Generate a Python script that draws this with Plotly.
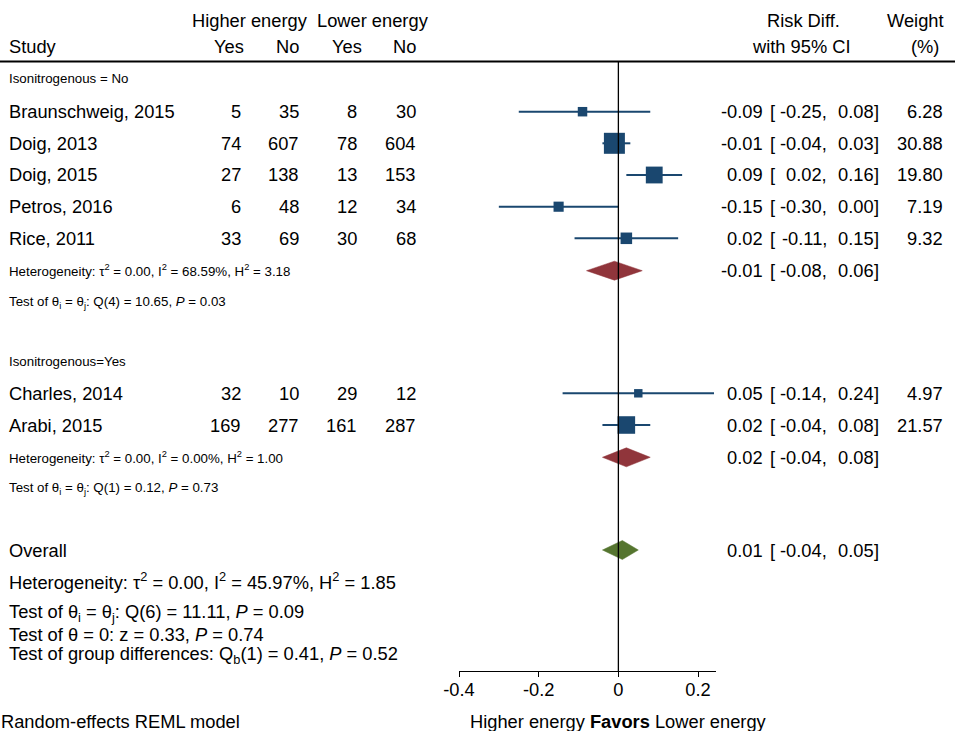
import plotly.graph_objects as go
import math

# ---------------- data ----------------
studies = ["Braunschweig, 2015", "Doig, 2013", "Doig, 2015", "Petros, 2016",
           "Rice, 2011", "Charles, 2014", "Arabi, 2015"]
hi_yes = [5, 74, 27, 6, 33, 32, 169]
hi_no = [35, 607, 138, 48, 69, 10, 277]
lo_yes = [8, 78, 13, 12, 30, 29, 161]
lo_no = [30, 604, 153, 34, 68, 12, 287]
rd = [-0.09, -0.01, 0.09, -0.15, 0.02, 0.05, 0.02]
ci_lo = [-0.25, -0.04, 0.02, -0.30, -0.11, -0.14, -0.04]
ci_hi = [0.08, 0.03, 0.16, 0.00, 0.15, 0.24, 0.08]
weight = [6.28, 30.88, 19.80, 7.19, 9.32, 4.97, 21.57]

sub_labels = ["Isonitrogenous = No", "Isonitrogenous=Yes"]
sub_rd = [-0.01, 0.02]
sub_lo = [-0.08, -0.04]
sub_hi = [0.06, 0.08]
sub_het = ["Heterogeneity: τ<sup>2</sup> = 0.00, I<sup>2</sup> = 68.59%, H<sup>2</sup> = 3.18",
           "Heterogeneity: τ<sup>2</sup> = 0.00, I<sup>2</sup> = 0.00%, H<sup>2</sup> = 1.00"]
sub_test = ["Test of θ<sub>i</sub> = θ<sub>j</sub>: Q(4) = 10.65, <i>P</i> = 0.03",
            "Test of θ<sub>i</sub> = θ<sub>j</sub>: Q(1) = 0.12, <i>P</i> = 0.73"]

overall_rd = 0.01
overall_lo = -0.04
overall_hi = 0.05
overall_het = "Heterogeneity: τ<sup>2</sup> = 0.00, I<sup>2</sup> = 45.97%, H<sup>2</sup> = 1.85"
overall_tests = ["Test of θ<sub>i</sub> = θ<sub>j</sub>: Q(6) = 11.11, <i>P</i> = 0.09",
                 "Test of θ = 0: z = 0.33, <i>P</i> = 0.74",
                 "Test of group differences: Q<sub>b</sub>(1) = 0.41, <i>P</i> = 0.52"]

tick_vals = [-0.4, -0.2, 0, 0.2]
tick_text = ["-0.4", "-0.2", "0", "0.2"]

# ---------------- layout constants (pixels) ----------------
W, H = 955, 731
AX_Y = 671
study_y = [111.7, 143.3, 175, 206.7, 238.3, 393.3, 425]
sub_label_y = [78, 361.7]
sub_diam_y = [270.7, 457.3]
sub_test_y = [303, 488.5]
overall_y = 550
overall_het_y = 581
overall_tests_y = [613, 634, 655]
col_head_x = [245, 300, 363, 417]
col_data_x = [242, 300, 358, 417]

FONT = "Liberation Sans, Arial, sans-serif"
BIG = 18.3
SMALL = 13.3
NAVY = "#1A476F"
MAROON = "#90353B"
GREEN = "#55752F"

fig = go.Figure()

def px(x):
    return x / W

def py(y):
    return 1 - y / H

annots = []

def txt(x, y, s, anchor="left", size=BIG):
    annots.append(dict(x=px(x), y=py(y), xref="paper", yref="paper", text=s,
                       showarrow=False, xanchor=anchor, yanchor="middle",
                       font=dict(family=FONT, size=size, color="black"),
                       borderpad=0))

def f2(v):
    return f"{v:.2f}"

def ci_text(y, est, lo, hi):
    txt(764, y, f2(est), "right")
    txt(769, y, "[", "left")
    txt(828, y, f2(lo) + ",", "right")
    txt(874.5, y, f2(hi), "right")
    txt(872.5, y, "]", "left")

# header
txt(250, 21, "Higher energy", "center")
txt(373, 21, "Lower energy", "center")
txt(8, 46, "Study", "left")
for xx, s in zip(col_head_x, ["Yes", "No", "Yes", "No"]):
    txt(xx, 46, s, "right")
txt(803, 21, "Risk Diff.", "center")
txt(801, 46, "with 95% CI", "center")
txt(945, 21, "Weight", "right")
txt(925, 46, "(%)", "center")

# CI lines
lx, ly = [], []
for i in range(len(studies)):
    lx += [ci_lo[i], ci_hi[i], None]
    ly += [study_y[i], study_y[i], None]
fig.add_trace(go.Scatter(x=lx, y=ly, mode="lines", line=dict(color=NAVY, width=2),
                         hoverinfo="skip", showlegend=False))
# squares (area proportional to weight)
fig.add_trace(go.Scatter(x=rd, y=study_y, mode="markers",
                         marker=dict(symbol="square", color=NAVY, opacity=1,
                                     size=[21 * math.sqrt(w / 30.88) for w in weight],
                                     line=dict(width=0)),
                         hoverinfo="skip", showlegend=False))

# study rows text
for i, s in enumerate(studies):
    y = study_y[i]
    txt(8, y, s, "left")
    for xx, v in zip(col_data_x, [hi_yes[i], hi_no[i], lo_yes[i], lo_no[i]]):
        txt(xx, y, str(v), "right")
    ci_text(y, rd[i], ci_lo[i], ci_hi[i])
    txt(944, y, f2(weight[i]), "right")

def diamond(est, lo, hi, y, color):
    h = 9.5
    fig.add_trace(go.Scatter(x=[lo, est, hi, est, lo], y=[y, y - h, y, y + h, y],
                             mode="lines", fill="toself", fillcolor=color,
                             line=dict(color=color, width=0.5),
                             hoverinfo="skip", showlegend=False))

for g in range(2):
    txt(8, sub_label_y[g], sub_labels[g], "left", SMALL)
    diamond(sub_rd[g], sub_lo[g], sub_hi[g], sub_diam_y[g], MAROON)
    txt(8, sub_diam_y[g], sub_het[g], "left", SMALL)
    ci_text(sub_diam_y[g], sub_rd[g], sub_lo[g], sub_hi[g])
    txt(8, sub_test_y[g], sub_test[g], "left", SMALL)

diamond(overall_rd, overall_lo, overall_hi, overall_y, GREEN)
txt(8, overall_y, "Overall", "left")
ci_text(overall_y, overall_rd, overall_lo, overall_hi)
txt(8, overall_het_y, overall_het, "left")
for t, y in zip(overall_tests, overall_tests_y):
    txt(8, y, t, "left")

txt(0, 721, "Random-effects REML model", "left")
txt(618.5, 721, "Higher energy <b>Favors</b> Lower energy", "center")

shapes = [
    dict(type="line", xref="paper", yref="paper", x0=0, x1=1, y0=py(61.5), y1=py(61.5),
         line=dict(color="black", width=2)),
    dict(type="line", xref="x", yref="y", x0=0, x1=0, y0=61.5, y1=AX_Y,
         line=dict(color="black", width=1.3)),
]

fig.update_layout(
    width=W, height=H, autosize=False,
    margin=dict(l=0, r=0, t=0, b=0, pad=0, autoexpand=False),
    paper_bgcolor="white", plot_bgcolor="white",
    annotations=annots, shapes=shapes,
    xaxis=dict(domain=[459 / W, 716 / W], range=[-0.4, 0.245],
               tickvals=tick_vals, ticktext=tick_text,
               showline=True, linecolor="black", linewidth=1.3,
               ticks="outside", ticklen=5, tickcolor="black", tickwidth=1.3,
               ticklabelstandoff=-3,
               tickfont=dict(family=FONT, size=BIG, color="black"),
               showgrid=False, zeroline=False, fixedrange=True),
    yaxis=dict(domain=[(H - AX_Y) / H, 1], range=[AX_Y, 0], visible=False,
               showgrid=False, zeroline=False, fixedrange=True),
)

fig.write_html("out.html", config={"displayModeBar": False},
               post_script="document.body.style.margin='0';document.body.style.padding='0';"
                           "document.body.style.overflow='hidden';"
                           "document.documentElement.style.overflow='hidden';")
